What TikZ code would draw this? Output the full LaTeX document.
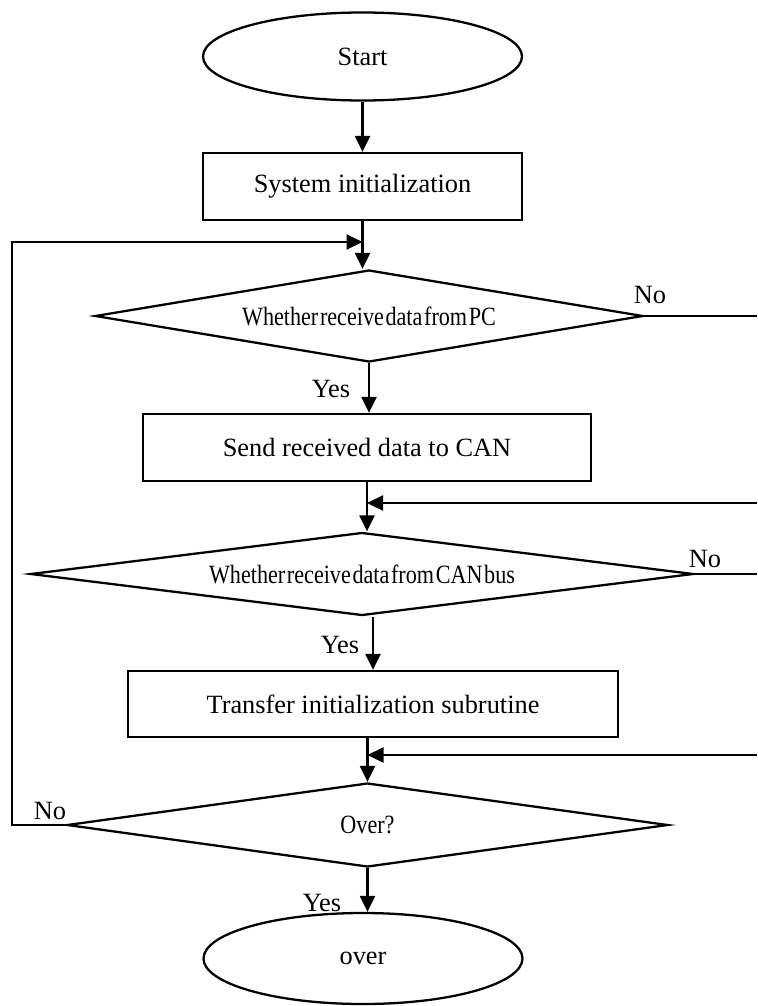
\documentclass[tikz,border=0pt]{standalone}
\usepackage{fontspec}
\setmainfont{Liberation Serif}
\newfontfamily\squeezed[FakeStretch=0.84,WordSpace=0.3]{Liberation Serif}
\usetikzlibrary{arrows.meta, shapes.geometric, positioning, calc}

\begin{document}
\begin{tikzpicture}[
    line width=1.3pt,
    font=\fontsize{15}{18}\selectfont,
    term/.style={ellipse, draw, inner sep=0pt, minimum width=6.38cm, minimum height=1.76cm},
    proc/.style={rectangle, draw, inner sep=0pt, minimum height=1.34cm},
    test/.style={diamond, draw, inner sep=0pt, font=\fontsize{15}{18}\squeezed},
    arrow/.style={-{Triangle[length=0.32cm, width=0.3cm]}},
    lbl/.style={inner sep=0pt}
  ]
    \useasboundingbox (0,0) rectangle (15.14,-20.12);

    \node[term] (start) at (7.25,-1.13) {Start};
    \node[proc, minimum width=6.38cm] (init) at (7.25,-3.73) {System initialization};
    \node[test, minimum width=10.96cm, minimum height=1.84cm, aspect=5.96] (pc) at (7.38,-6.32) {Whether receive data from PC};
    \node[proc, minimum width=8.96cm] (send) at (7.34,-8.95) {Send received data to CAN};
    \node[test, minimum width=13.26cm, minimum height=1.66cm, aspect=8] (can) at (7.24,-11.48) {Whether receive data from CAN bus};
    \node[proc, minimum width=9.80cm, minimum height=1.32cm] (sub) at (7.46,-14.08) {Transfer initialization subrutine};
    \node[test, minimum width=12.02cm, minimum height=1.68cm, aspect=7.15] (chk) at (7.35,-16.50) {Over?};
    \node[term, minimum height=1.82cm] (over) at (7.26,-19.17) {over};

    % yes / no labels
    \node[lbl] (no1) at (13.0,-5.9) {No};
    \node[lbl] (yes1) at (6.62,-7.78) {Yes};
    \node[lbl] (no2) at (14.1,-11.17) {No};
    \node[lbl] (yes2) at (6.8,-12.9) {Yes};
    \node[lbl] (no3) at (1.0,-16.22) {No};
    \node[lbl] (yes3) at (6.44,-18.06) {Yes};

    \coordinate (edge) at (15.14,0);
    \coordinate (back1) at (15.14,-10.06);
    \coordinate (back2) at (15.14,-15.10);
    \coordinate (loop) at (0.24,-4.84);

    \draw[arrow] (start) -- (init);
    \draw[arrow] (init) -- (init |- pc.north);
    \draw[arrow] (pc) -- (pc |- send.north);
    \draw[arrow] (send) -- (send |- can.north);
    \draw[arrow] (sub.north |- can.south) -- (sub.north);
    \draw[arrow] (chk.north |- sub.south) -- (chk.north);
    \draw[arrow] (chk) -- (chk |- over.north);

    \draw (pc.east) -- (pc.east -| edge);
    \draw (can.east) -- (can.east -| edge);
    \draw[arrow] (back1) -- (back1 -| send.south);
    \draw[arrow] (back2) -- (back2 -| chk.north);
    \draw[arrow] (chk.west) -| (loop) -- (loop -| init.south);
  \end{tikzpicture}
\end{document}
